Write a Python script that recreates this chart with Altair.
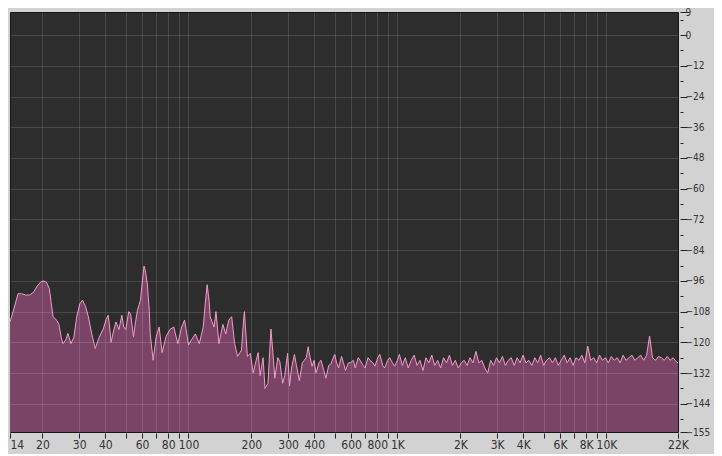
import altair as alt
import pandas as pd

# ---- spectrum, low band (Hz, dB) ----
freq_lo = [14.0, 14.6, 15.3, 15.9, 16.6, 17.4, 18.1, 18.9, 19.6, 20.2,
           20.9, 21.6, 22.0, 22.5, 23.5, 24.0, 24.6, 25.1, 25.9, 26.5,
           27.4, 28.3, 29.2, 30.2, 31.1, 32.2, 33.2, 34.3, 35.8, 37.4,
           39.1, 40.4, 41.3, 42.2, 42.6, 44.0, 45.0, 46.5, 48.0, 49.0,
           50.1, 51.8, 52.9, 54.6, 55.8, 57.0, 58.9, 60.2, 61.3, 62.2,
           63.6, 65.0, 65.6, 67.8, 70.1, 72.4, 74.8, 78.1, 81.5, 85.1,
           88.9, 92.8, 95.8, 100.1, 103.4, 107.9, 112.7, 117.7, 120.3, 122.9,
           125.6, 127.0, 132.6, 135.4, 139.9, 146.1, 150.9, 155.9, 161.0, 166.3,
           171.8, 179.4, 183.3, 185.3, 187.3, 191.4, 197.7]
db_lo = [-112, -107, -101, -101, -101.5, -101.5, -100.5, -98, -96.5, -96,
         -96.5, -99, -104, -110, -111.5, -113, -118, -120.5, -119, -116.5,
         -120.5, -118, -110, -105, -103.5, -106, -110, -116, -122.4, -118,
         -114.8, -111, -109.4, -116, -120, -115, -112, -115, -109.4, -114,
         -115, -108, -109, -117.8, -112, -107.5, -103.6, -96, -90.2, -92,
         -97.5, -108, -116.7, -127, -117.8, -114, -124, -117.8, -115, -114,
         -120.5, -114, -111.3, -121, -119, -116.7, -120.5, -114, -105, -97.5,
         -104, -110, -114, -108, -120.5, -113, -116.7, -111.3, -110, -120.5,
         -125.5, -123, -112, -108, -114, -125.5, -124.3]

# ---- spectrum, mid band ----
freq_mid = [204.2, 208.7, 215.6, 220.3, 227.5, 232.5, 240.2, 248.1, 253.5, 259.0,
            267.6, 273.4, 282.4, 288.6, 298.1, 304.6, 311.3, 321.5, 328.6, 339.4,
            350.6, 358.2, 366.0, 374.0, 382.2, 390.6, 399.1, 407.8, 421.2, 430.4,
            444.6, 454.4, 469.3, 479.6, 500.7, 511.7, 522.8, 540.1, 551.9, 563.9,
            582.5, 595.3, 614.9, 628.4, 649.1, 663.3, 685.1, 700.1, 723.2, 738.9,
            763.3, 780.0, 805.7, 823.3, 850.4, 869.0, 897.6, 917.2, 947.4, 968.1,
            1000.0, 1021.9]
db_mid = [-132, -128.5, -124, -133, -126, -138, -136, -114.8, -124, -134,
          -126, -127.4, -136, -133, -124.3, -137, -130, -124.7, -129, -135,
          -128, -127, -126, -121.7, -126, -129.3, -127, -132, -128, -127,
          -131, -134, -129, -128.5, -124.7, -128, -130, -125.5, -128, -131,
          -128, -128, -127, -130, -126, -127, -129, -130, -126, -127,
          -128, -129.3, -126, -124.7, -129, -130, -127, -126, -128, -129.3,
          -127, -124.7]

# ---- spectrum, high band ----
freq_hi = [1055.6, 1090.4, 1126.3, 1163.4, 1201.8, 1241.4, 1282.3, 1324.6, 1368.2, 1413.3,
           1459.9, 1508.0, 1557.7, 1609.0, 1662.0, 1716.8, 1773.4, 1831.8, 1892.2, 1954.6,
           2019.0, 2085.5, 2154.2, 2225.2, 2298.6, 2374.3, 2452.6, 2533.4, 2616.9, 2703.2,
           2792.3, 2884.3, 2979.3, 3077.5, 3178.9, 3283.7, 3391.9, 3503.7, 3619.2, 3738.5,
           3861.7, 3989.0, 4120.4, 4256.2, 4396.5, 4541.4, 4691.1, 4845.7, 5005.4, 5170.4,
           5340.8, 5516.8, 5698.6, 5886.4, 6080.4, 6280.8, 6487.8, 6701.6, 6922.5, 7150.7,
           7386.4, 7629.8, 7881.3, 8141.0, 8409.3, 8686.5, 8972.8, 9268.5, 9574.0, 9889.5,
           10215.5, 10552.2, 10900.0, 11259.2, 11630.3, 12013.6, 12409.5, 12818.5, 13241.0, 13677.4,
           14128.2, 14593.8, 15074.8, 15571.6, 16084.8, 16614.9, 17162.5, 17728.1, 18312.4, 18915.9,
           19539.3, 20183.3, 20848.5, 21535.6, 22000.0]
db_hi = [-129, -126, -130, -127, -125, -129, -127, -131, -126, -128,
         -125, -129, -127, -130, -126, -128, -125, -129, -127, -130,
         -128, -127, -129, -126, -128, -123.5, -128, -127, -130, -132,
         -127, -129, -126, -128, -125.5, -129, -127, -126, -129, -126,
         -128, -125, -128, -127, -129, -126, -128, -125, -129, -127,
         -126, -128, -126, -129, -127, -125, -128, -126, -129, -126,
         -127, -125, -128, -121.5, -127, -126, -128, -125, -127, -126,
         -128, -125.5, -127, -126, -128, -125, -127, -126, -125, -127,
         -126, -125, -127, -125, -117.5, -126, -127, -125.5, -126, -127,
         -125.5, -127, -126, -127.5, -128]

# ---- axes ----
x_ticks = [14, 20, 30, 40, 50, 60, 70, 80, 90, 100, 200, 300, 400, 500, 600, 700, 800, 900,
           1000, 2000, 3000, 4000, 5000, 6000, 7000, 8000, 9000, 10000, 22000]
x_labeled = [14, 20, 30, 40, 60, 80, 100, 200, 300, 400, 600, 800,
             1000, 2000, 3000, 4000, 6000, 8000, 10000, 22000]
y_ticks = [9, 6, 0, -6, -12, -18, -24, -30, -36, -42, -48, -54, -60, -66, -72, -78,
           -84, -90, -96, -102, -108, -114, -120, -126, -132, -138, -144, -150, -155]

df = pd.DataFrame({"freq": freq_lo + freq_mid + freq_hi,
                   "db": db_lo + db_mid + db_hi})

FONT = "Liberation Sans Narrow, DejaVu Sans Condensed, sans-serif"
labeled_js = "[" + ",".join(str(v) for v in x_labeled) + "]"
major_y = "datum.value % 12 == 0 || datum.value == 9 || datum.value == -155"

x_enc = alt.X(
    "freq:Q",
    scale=alt.Scale(type="log", domain=[14, 22000], nice=False),
    axis=alt.Axis(
        values=x_ticks,
        title=None,
        domain=False,
        labelExpr=(f"indexof({labeled_js}, datum.value) >= 0 ? "
                   "(datum.value >= 1000 ? (datum.value / 1000) + 'K' : datum.value + '') : ''"),
        labelFlush=False,
        labelOverlap=False,
        labelAlign={"condition": {"test": "datum.value == 14", "value": "left"}, "value": "center"},
        labelFont=FONT, labelFontSize=12, labelColor="#333333", labelPadding=1,
        tickColor="#222222", tickSize=5, tickWidth=1, offset=1,
        gridColor="#ffffff",
        gridOpacity={"condition": {"test": "datum.value == 14 || datum.value == 22000", "value": 0},
                     "value": 0.13},
        zindex=1,
    ),
)

y_enc = alt.Y(
    "db:Q",
    scale=alt.Scale(domain=[-155, 9], nice=False, zero=False),
    axis=alt.Axis(
        orient="right",
        values=y_ticks,
        title=None,
        domain=False,
        labelExpr=f"({major_y}) ? datum.label : ''",
        labelOverlap=False,
        labelFlush=False,
        labelFont=FONT, labelFontSize=10, labelColor="#333333", labelPadding=-2,
        labelBaseline="middle",
        tickColor="#222222", tickWidth=1, tickSize=7,
        tickDash={"condition": {"test": major_y, "value": [7, 0]}, "value": [3, 10]},
        offset=2,
        gridColor="#ffffff",
        gridOpacity={"condition": {"test": "datum.value % 12 == 0", "value": 0.13},
                     "value": 0},
        zindex=1,
    ),
)

area = alt.Chart(df).mark_area(color="#7a4466", opacity=1, interpolate="linear").encode(
    x=x_enc, y=y_enc, y2=alt.datum(-155)
)
line = alt.Chart(df).mark_line(color="#f79ac8", strokeWidth=1, interpolate="linear").encode(
    x=x_enc, y=y_enc
)

chart = (
    alt.layer(area, line)
    .properties(
        width=668, height=420,
        padding={"left": 2, "top": 4, "right": 36, "bottom": 22},
        autosize=alt.AutoSizeParams(type="none"),
        background="#d2d2d2",
    )
    .configure_view(fill="#2d2d2d", stroke="#151515", strokeWidth=1)
)

chart.save("out.html", embed_options={"renderer": "svg", "actions": False})
